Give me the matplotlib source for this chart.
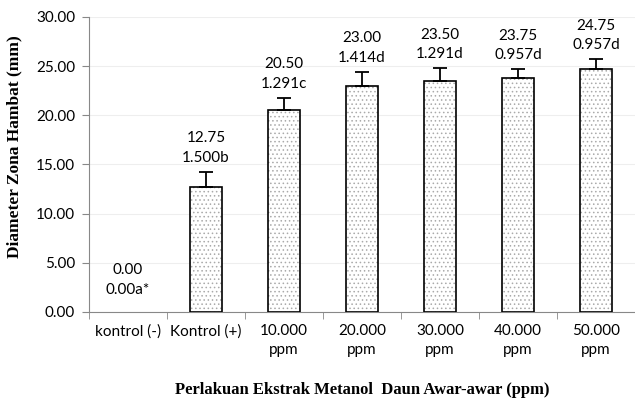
import matplotlib
matplotlib.use("Agg")
import matplotlib.pyplot as plt
import numpy as np

kategori = ["kontrol (-)", "Kontrol (+)", "10.000\nppm", "20.000\nppm",
            "30.000\nppm", "40.000\nppm", "50.000\nppm"]
rata = [0.00, 12.75, 20.50, 23.00, 23.50, 23.75, 24.75]
sd = [0.00, 1.500, 1.291, 1.414, 1.291, 0.957, 0.957]
notasi = ["a*", "b", "c", "d", "d", "d", "d"]
sd_teks = ["0.00", "1.500", "1.291", "1.414", "1.291", "0.957", "0.957"]

plt.rcParams['font.family'] = ['Lato', 'DejaVu Sans']
plt.rcParams['hatch.linewidth'] = 0.6

fig = plt.figure(figsize=(6.35, 4.03), dpi=100)
ax = fig.add_axes([0.140, 0.226, 0.860, 0.732])

x = np.arange(len(kategori))
lebar = 0.4
ada = np.array(rata) > 0

# isi bertitik lalu garis tepi hitam (bar nol tidak digambar)
ax.bar(x[ada], np.array(rata)[ada], lebar, color="white", edgecolor="#aaaaaa", hatch="....",
       linewidth=0, zorder=2)
ax.bar(x[ada], np.array(rata)[ada], lebar, fill=False, edgecolor="black", linewidth=1.2, zorder=3)
ax.errorbar(x[ada], np.array(rata)[ada], yerr=[np.zeros(ada.sum()), np.array(sd)[ada]],
            fmt="none", ecolor="black", elinewidth=1.3, capsize=5, capthick=1.3, zorder=4)

for xi, m, s, st, n in zip(x, rata, sd, sd_teks, notasi):
    off = 11 if s == 0 else 5
    ax.annotate(f"{m:.2f}\n{st}{n}", (xi, m + s), xytext=(0, off), textcoords="offset points",
                ha="center", va="bottom", fontsize=11, linespacing=1.5)

ax.set_xlim(-0.5, len(kategori) - 0.5)
ax.set_ylim(0, 30)
ax.set_yticks(np.arange(0, 31, 5))
ax.set_yticklabels([f"{v:.2f}" for v in np.arange(0, 31, 5)], fontsize=11)
ax.set_xticks(x)
ax.set_xticklabels(kategori, fontsize=11, linespacing=1.45)
ax.tick_params(axis="x", length=0, pad=9)
ax.set_xticks(np.arange(-0.5, len(kategori), 1), minor=True)
ax.tick_params(axis="x", which="minor", length=5, color="#888888")
ax.tick_params(axis="y", length=5, color="#888888", pad=5)

ax.grid(axis="y", color="#eeeeee", linewidth=0.8, zorder=0)
ax.set_axisbelow(True)
for s in ["top", "right"]:
    ax.spines[s].set_visible(False)
for s in ["left", "bottom"]:
    ax.spines[s].set_color("#888888")

ax.set_ylabel("Diameter Zona Hambat (mm)", family="Liberation Serif", fontweight="bold",
              fontsize=12.5)
ax.yaxis.set_label_coords(-0.121, 0.56)
ax.set_xlabel("Perlakuan Ekstrak Metanol  Daun Awar-awar (ppm)", family="Liberation Serif",
              fontweight="bold", fontsize=12, labelpad=18)

fig.savefig("out.png", dpi=100)
